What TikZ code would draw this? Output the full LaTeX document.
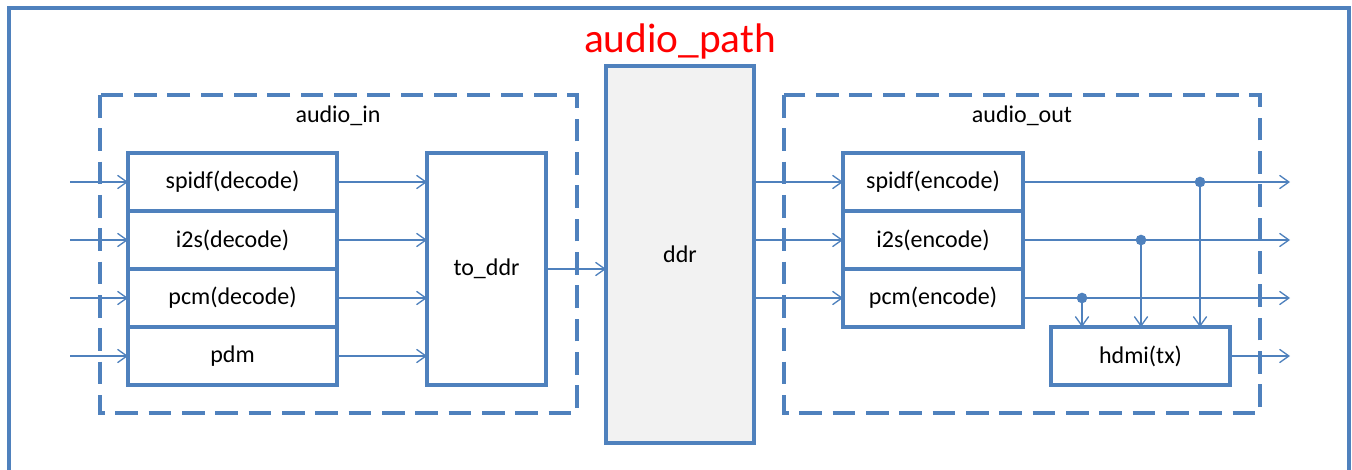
\documentclass[tikz,border=0pt]{standalone}
\usepackage{fontspec}
\setmainfont{Carlito}
\usepackage{xcolor}
\usetikzlibrary{positioning}
\usetikzlibrary{arrows.meta}
\definecolor{pathblue}{HTML}{4F81BD}
\definecolor{ddrgray}{HTML}{F2F2F2}

\begin{document}
\begin{tikzpicture}[x=0.75pt,y=-0.75pt,>={Straight Barb[length=7pt,width=10pt]},
        blk/.style={draw=pathblue,line width=2.6pt,outer sep=0pt,inner sep=0pt,font=\fontsize{18}{20}\selectfont},
        arr/.style={->,draw=pathblue,line width=1pt},
        grp/.style={draw=pathblue,line width=3pt,dash pattern=on 17pt off 8pt}]
        \useasboundingbox (0,0) rectangle (1352,470);
        \draw[pathblue,line width=2.5pt] (9,470) -- (9,8) -- (1349,8) -- (1349,470);
        \node[text=red,font=\fontsize{31}{34}\selectfont] (title) at (680,41) {audio\_path};
        \draw[grp] (100,95) rectangle (577,413);
        \draw[grp] (784,95) rectangle (1260,413);
        \node[font=\fontsize{18}{20}\selectfont] (inlbl) at (338,116) {audio\_in};
        \node[font=\fontsize{18}{20}\selectfont] (outlbl) at (1022,116) {audio\_out};
        \node[blk,minimum width=156.75pt,minimum height=43.5pt] (spd) at (232.5,182) {spidf(decode)};
        \node[blk,minimum width=156.75pt,minimum height=43.5pt,below=0pt of spd] (i2d) {i2s(decode)};
        \node[blk,minimum width=156.75pt,minimum height=43.5pt,below=0pt of i2d] (pcd) {pcm(decode)};
        \node[blk,minimum width=156.75pt,minimum height=43.5pt,below=0pt of pcd] (pdm) {pdm};
        \node[blk,minimum width=89.25pt,minimum height=174pt] (todr) at (486.5,269) {to\_ddr};
        \node[blk,fill=ddrgray,minimum width=111pt,minimum height=282.75pt] (ddr) at (680,254.5) {ddr};
        \node[blk,minimum width=135pt,minimum height=43.5pt] (spe) at (933,182) {spidf(encode)};
        \node[blk,minimum width=135pt,minimum height=43.5pt,below=0pt of spe] (i2e) {i2s(encode)};
        \node[blk,minimum width=135pt,minimum height=43.5pt,below=0pt of i2e] (pce) {pcm(encode)};
        \node[blk,minimum width=134.25pt,minimum height=43.5pt] (hdmi) at (1140.5,356) {hdmi(tx)};
        \draw[arr,<-] (spd.west) --+ (-58,0);
        \draw[arr,<-] (i2d.west) --+ (-58,0);
        \draw[arr,<-] (pcd.west) --+ (-58,0);
        \draw[arr,<-] (pdm.west) --+ (-58,0);
        \draw[arr] (spd.east) -- (spd.east -| todr.west);
        \draw[arr] (i2d.east) -- (i2d.east -| todr.west);
        \draw[arr] (pcd.east) -- (pcd.east -| todr.west);
        \draw[arr] (pdm.east) -- (pdm.east -| todr.west);
        \draw[arr] (todr.east) -- (todr.east -| ddr.west);
        \draw[arr] (spe.west -| ddr.east) -- (spe.west);
        \draw[arr] (i2e.west -| ddr.east) -- (i2e.west);
        \draw[arr] (pce.west -| ddr.east) -- (pce.west);
        \draw[arr] (spe.east) --+ (267,0);
        \draw[arr] (i2e.east) --+ (267,0);
        \draw[arr] (pce.east) --+ (267,0);
        \draw[arr] (hdmi.east) --+ (60,0);
        \coordinate (d1) at (1200,182);
        \coordinate (d2) at (1141,240);
        \coordinate (d3) at (1082,298);
        \fill[pathblue] (d1) circle (4pt);
        \fill[pathblue] (d2) circle (4pt);
        \fill[pathblue] (d3) circle (4pt);
        \draw[arr] (d1) -- (d1 |- hdmi.north);
        \draw[arr] (d2) -- (d2 |- hdmi.north);
        \draw[arr] (d3) -- (d3 |- hdmi.north);
    \end{tikzpicture}
\end{document}
